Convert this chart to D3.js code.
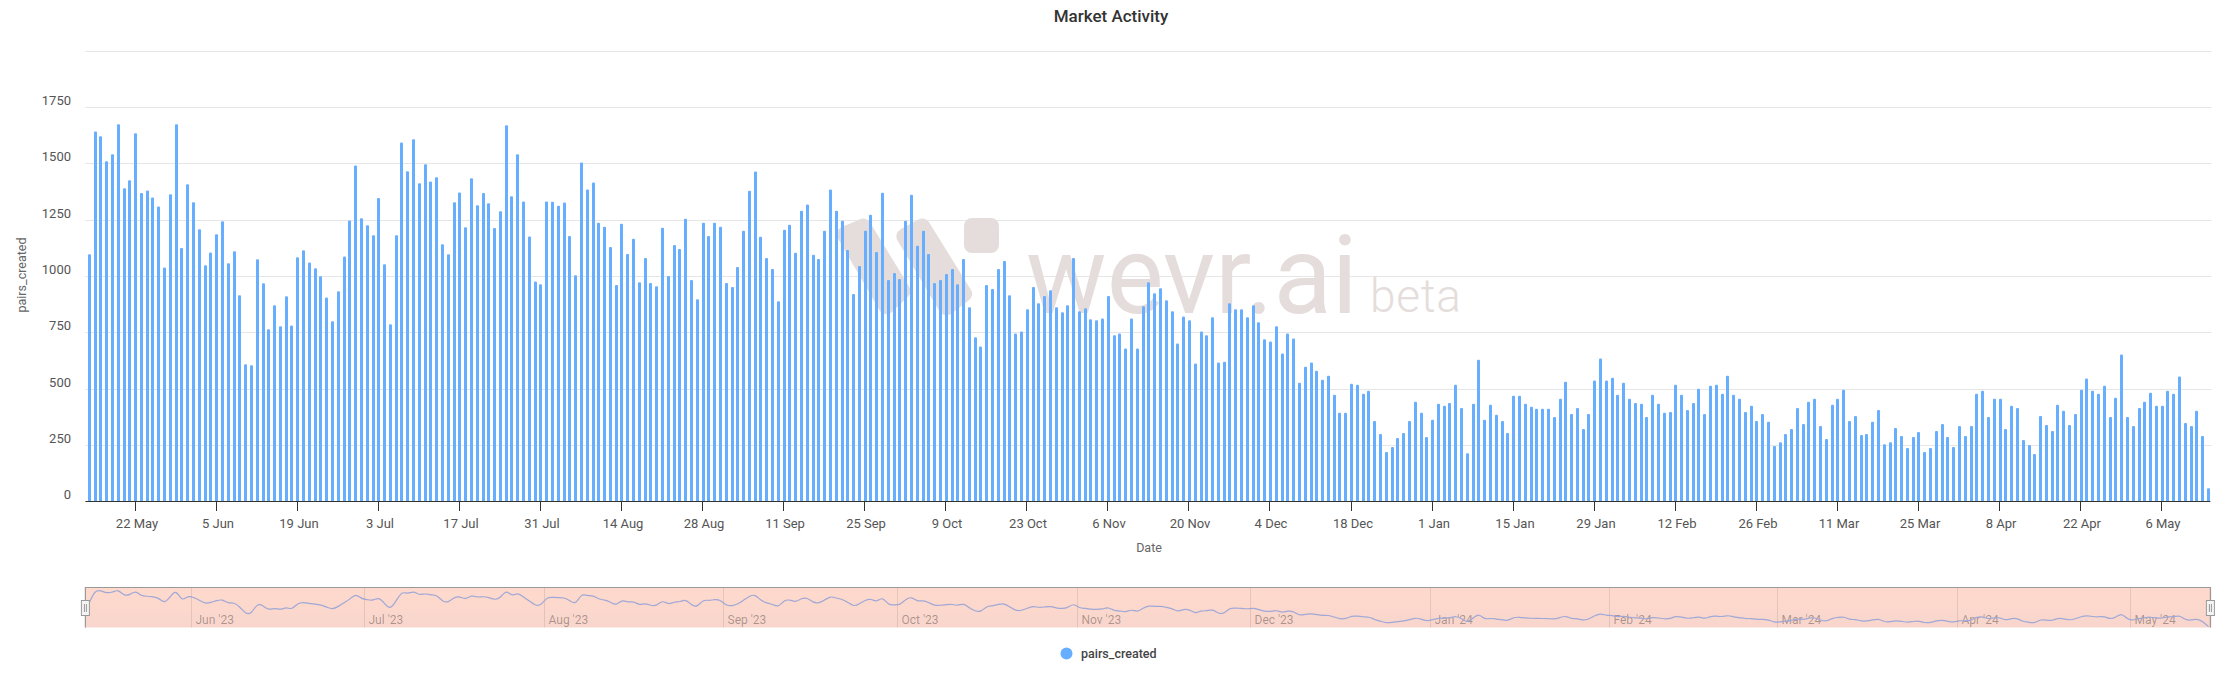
<!DOCTYPE html>
<html><head><meta charset="utf-8">
<script src="https://cdn.jsdelivr.net/npm/d3@7"></script>
<style>html,body{margin:0;padding:0;background:#fff;overflow:hidden}svg{display:block;font-family:Roboto,sans-serif}</style>
</head><body><svg id="c" width="2221" height="683"></svg>
<script>
const startDate = "2023-05-14";
const pairsCreated = [
1097,1642,1620,1509,1540,1674,1390,1425,1634,1368,1380,1349,1309,1038,1363,1674,1124,1407,1327,1208,
1048,1105,1186,1243,1057,1110,915,609,604,1075,968,764,870,777,910,781,1083,1114,1060,1035,
999,905,799,932,1087,1246,1491,1257,1225,1181,1346,1052,786,1181,1593,1465,1607,1412,1496,1420,
1438,1141,1097,1327,1371,1216,1434,1314,1368,1323,1213,1287,1669,1354,1540,1331,1176,976,964,1331,
1330,1312,1326,1178,1004,1504,1384,1415,1236,1219,1129,960,1232,1098,1165,973,1080,969,955,1214,
1000,1138,1120,1254,982,897,1236,1178,1236,1219,969,951,1040,1201,1379,1464,1174,1080,1031,888,
1205,1228,1103,1290,1317,1094,1076,1201,1384,1290,1245,1116,920,1045,1201,1272,1107,1370,982,1013,
987,1245,1361,1134,1201,1098,969,982,1009,1031,964,1076,862,728,687,960,942,1031,1067,915,
745,754,853,951,879,911,937,862,839,870,1080,844,857,808,804,812,911,737,745,679,
812,679,866,973,924,946,893,844,701,821,804,612,754,737,817,616,620,879,853,853,
817,870,795,719,710,777,656,745,723,527,598,616,580,540,558,473,393,393,522,518,
478,491,357,299,219,241,281,304,357,442,393,286,362,433,424,437,518,415,214,433,
629,362,429,384,357,304,469,469,433,420,411,411,411,375,455,531,388,415,321,388,
536,634,536,549,473,527,455,437,433,375,473,433,393,397,518,473,406,437,500,388,
513,518,478,558,473,455,397,424,357,388,353,246,263,299,321,415,344,442,455,335,
277,429,455,496,357,379,295,299,353,406,254,263,326,290,237,286,308,219,237,312,
344,286,241,335,290,335,478,491,375,455,455,321,424,415,272,250,210,379,339,312,
429,402,339,388,496,545,491,478,513,375,460,652,375,335,415,442,482,424,424,491,
478,554,348,335,402,290,58];
const yTicks = [0,250,500,750,1000,1250,1500,1750,2000];
const yTickLabels = ["0","250","500","750","1000","1250","1500","1750",""];
const monthTicks = [["2023-06-01","Jun '23"],["2023-07-01","Jul '23"],["2023-08-01","Aug '23"],["2023-09-01","Sep '23"],["2023-10-01","Oct '23"],["2023-11-01","Nov '23"],["2023-12-01","Dec '23"],["2024-01-01","Jan '24"],["2024-02-01","Feb '24"],["2024-03-01","Mar '24"],["2024-04-01","Apr '24"],["2024-05-01","May '24"]];
const seriesName = "pairs_created", titleText = "Market Activity", xTitle = "Date";

const DAY = 864e5, utc = s => new Date(s + "T00:00:00Z");
const dates = pairsCreated.map((_, i) => new Date(+utc(startDate) + i * DAY));
const idx = s => Math.round((utc(s) - utc(startDate)) / DAY);
const svg = d3.select("#c");
const L = 86.4, R = 2211.4;
const x = d3.scaleBand().domain(d3.range(pairsCreated.length)).range([L, R]).paddingInner(0);
const y = d3.scaleLinear().domain([0, 2000]).range([501.4, 50.7]);
const BLUE = "#68aeff", WM = "#e5dddc";

// grid
svg.append("g").selectAll("line").data(yTicks.slice(1)).join("line")
  .attr("x1", L - 1).attr("x2", R).attr("y1", d => Math.round(y(d)) + .5).attr("y2", d => Math.round(y(d)) + .5)
  .attr("stroke", "#e6e6e6").attr("stroke-width", 1);

// watermark
const wm = svg.append("g");
[[[838.6,228],[860.7,218],[909,297],[889,315]],[[898,230],[919.6,218],[970.7,300],[949,316]]].forEach(p => {
  const c = d3.polygonCentroid(p);
  const q = p.map(([a,b]) => { const dx=c[0]-a, dy=c[1]-b, l=Math.hypot(dx,dy); return [a+dx/l*9, b+dy/l*9]; });
  wm.append("path").attr("d", "M" + q.join("L") + "Z").attr("fill", WM).attr("stroke", WM).attr("stroke-width", 16).attr("stroke-linejoin", "round");
});
wm.append("rect").attr("x", 964).attr("y", 218).attr("width", 35).attr("height", 35).attr("rx", 8).attr("fill", WM);
wm.append("text").attr("x", 1026).attr("y", 312.5).attr("font-size", 110).attr("font-weight", 400).attr("fill", WM).attr("textLength", 332).attr("lengthAdjust", "spacingAndGlyphs").text("wevr.ai");
wm.append("text").attr("x", 1370).attr("y", 312).attr("font-size", 46).attr("font-weight", 300).attr("fill", WM).attr("textLength", 91).text("beta");

// bars
const bw = 3;
svg.append("g").selectAll("path").data(pairsCreated).join("path")
  .attr("fill", BLUE)
  .attr("d", (d, i) => {
    const c = Math.round(x(i) + x.bandwidth() / 2 - bw / 2), t = y(d), b = y(0);
    return `M${c},${b}V${t + 1}Q${c},${t} ${c + 1},${t}H${c + bw - 1}Q${c + bw},${t} ${c + bw},${t + 1}V${b}Z`;
  });

// x axis
const ax = svg.append("g");
ax.append("line").attr("x1", L - 1).attr("x2", R - 1).attr("y1", 501.5).attr("y2", 501.5).attr("stroke", "#333").attr("stroke-width", 1);
const tickIdx = d3.range(8, pairsCreated.length, 14);
const fmt = d3.utcFormat("%-d %b");
tickIdx.forEach(i => {
  const px = Math.round(x(i) + x.bandwidth() / 2 - 1) + .5;
  ax.append("line").attr("x1", px).attr("x2", px).attr("y1", 501).attr("y2", 511).attr("stroke", "#333");
  ax.append("text").attr("x", px + 1.5).attr("y", 528).attr("text-anchor", "middle").attr("font-size", 13).attr("fill", "#555").text(fmt(dates[i]));
});
// y labels
svg.append("g").selectAll("text").data(yTicks).join("text")
  .attr("x", 71).attr("y", d => y(d) - 2).attr("text-anchor", "end").attr("font-size", 13).attr("fill", "#555")
  .text((d, i) => yTickLabels[i]);
svg.append("text").attr("transform", "translate(26,275) rotate(-90)").attr("text-anchor", "middle").attr("font-size", 12.5).attr("fill", "#666").text(seriesName);
svg.append("text").attr("x", 1149).attr("y", 552).attr("text-anchor", "middle").attr("font-size", 12.5).attr("fill", "#666").text(xTitle);
svg.append("text").attr("x", 1111).attr("y", 22).attr("text-anchor", "middle").attr("font-size", 17).attr("font-weight", 500).attr("fill", "#333").text(titleText);

// navigator
const nTop = 587.5, nBot = 627.5;
const defs = svg.append("defs");
const grad = defs.append("linearGradient").attr("id", "nf").attr("x1", 0).attr("x2", 0).attr("y1", 0).attr("y2", 1);
grad.append("stop").attr("offset", 0).attr("stop-color", "#ffd9cc");
grad.append("stop").attr("offset", 1).attr("stop-color", "#f8d6cd");
const nav = svg.append("g");
nav.append("rect").attr("x", L - 1).attr("y", nTop).attr("width", R - L + 1).attr("height", nBot - nTop).attr("fill", "url(#nf)");
monthTicks.forEach(([d, lab]) => {
  const px = Math.round(x(idx(d))) + .5;
  nav.append("line").attr("x1", px).attr("x2", px).attr("y1", nTop).attr("y2", nBot).attr("stroke", "#000").attr("stroke-opacity", .09);
  nav.append("text").attr("x", px + 4).attr("y", 624).attr("font-size", 12).attr("fill", "#000").attr("fill-opacity", .33).text(lab);
});
const ny = d3.scaleLinear().domain([0, 1600]).range([628, 591]);
nav.append("path").datum(pairsCreated).attr("fill", "none").attr("stroke", "#9fa8d6").attr("stroke-width", 1.2)
  .attr("d", d3.line().x((d, i) => x(i) + x.bandwidth() / 2).y(d => ny(d)).curve(d3.curveBasis));
nav.append("path").attr("fill", "none").attr("stroke", "#999").attr("stroke-width", 1.2)
  .attr("d", `M${L - 1},${nBot}V${nTop}H${R - 1}V${nBot}`);
[L - 1, R - 1].forEach(cx => {
  nav.append("rect").attr("x", cx - 4).attr("y", 600.5).attr("width", 8).attr("height", 15).attr("fill", "#f4f4f4").attr("stroke", "#999");
  [-1, 1].forEach(o => nav.append("line").attr("x1", cx + o).attr("x2", cx + o).attr("y1", 604).attr("y2", 612).attr("stroke", "#999"));
});

// legend
svg.append("circle").attr("cx", 1066.5).attr("cy", 653.5).attr("r", 6).attr("fill", BLUE);
svg.append("text").attr("x", 1081).attr("y", 658).attr("font-size", 12.5).attr("font-weight", 500).attr("fill", "#444").text(seriesName);
</script></body></html>
